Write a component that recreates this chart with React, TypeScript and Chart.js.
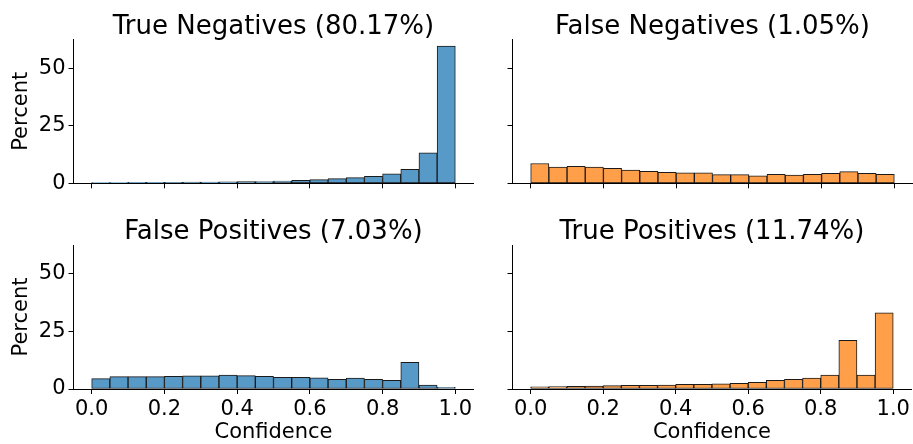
import React, { useEffect, useRef } from "react";
import { Chart, registerables } from "chart.js";

Chart.register(...registerables);
Chart.defaults.font.family = "'DejaVu Sans', sans-serif";
Chart.defaults.color = "#000";

// Bin centres of the 20 histogram bins over confidence [0, 1]
const binCenters = [
  0.025, 0.075, 0.125, 0.175, 0.225, 0.275, 0.325, 0.375, 0.425, 0.475,
  0.525, 0.575, 0.625, 0.675, 0.725, 0.775, 0.825, 0.875, 0.925, 0.975,
];
const xTickValues = [0, 0.2, 0.4, 0.6, 0.8, 1.0];
const yTickValues = [0, 25, 50];

const panelTitles = [
  "True Negatives (80.17%)",
  "False Negatives (1.05%)",
  "False Positives (7.03%)",
  "True Positives (11.74%)",
];
const xAxisLabel = "Confidence";
const yAxisLabel = "Percent";

// Percent of samples per bin
const trueNegatives = [
  0.3, 0.35, 0.4, 0.4, 0.45, 0.5, 0.55, 0.6, 0.7, 0.8,
  1.0, 1.3, 1.6, 2.0, 2.5, 3.0, 4.1, 6.1, 13.3, 59.7,
];
const falseNegatives = [
  8.6, 7.0, 7.4, 7.1, 6.5, 5.8, 5.2, 4.8, 4.5, 4.6,
  3.8, 3.8, 3.2, 3.9, 3.6, 3.9, 4.3, 5.1, 4.3, 3.9,
];
const falsePositives = [
  4.5, 5.4, 5.4, 5.4, 5.5, 5.7, 5.7, 6.0, 5.8, 5.5,
  5.1, 5.1, 4.9, 4.2, 4.7, 4.2, 3.8, 11.6, 1.7, 0.7,
];
const truePositives = [
  0.9, 1.0, 1.2, 1.3, 1.5, 1.6, 1.6, 1.7, 2.0, 2.0,
  2.3, 2.5, 2.9, 3.8, 4.2, 4.7, 6.1, 21.2, 6.0, 33.1,
];

const BLUE = "#5799C7";
const ORANGE = "#FF9F4A";

type Panel = {
  left: number;
  top: number;
  width: number;
  height: number;
  yAxisWidth: number;
  padRight: number;
  titleTop: number;
  titleBottom: number;
  xAxisHeight: number;
  showXLabels: boolean;
  showYLabels: boolean;
  color: string;
  values: number[];
  title: string;
};

const panels: Panel[] = [
  { left: 0, top: 0, width: 485, height: 205, yAxisWidth: 73.5, padRight: 11.5, titleTop: 15.8, titleBottom: 0.1, xAxisHeight: 21.7, showXLabels: false, showYLabels: true, color: BLUE, values: trueNegatives, title: panelTitles[0] },
  { left: 485, top: 0, width: 428, height: 205, yAxisWidth: 27.5, padRight: 0.5, titleTop: 15.8, titleBottom: 0.1, xAxisHeight: 21.7, showXLabels: false, showYLabels: false, color: ORANGE, values: falseNegatives, title: panelTitles[1] },
  { left: 0, top: 205, width: 485, height: 239, yAxisWidth: 73.5, padRight: 11.5, titleTop: 15.8, titleBottom: 0.8, xAxisHeight: 55, showXLabels: true, showYLabels: true, color: BLUE, values: falsePositives, title: panelTitles[2] },
  { left: 485, top: 205, width: 428, height: 239, yAxisWidth: 27.5, padRight: 0.5, titleTop: 15.8, titleBottom: 0.8, xAxisHeight: 55, showXLabels: true, showYLabels: false, color: ORANGE, values: truePositives, title: panelTitles[3] },
];

function HistPanel({ p }: { p: Panel }) {
  const ref = useRef<HTMLCanvasElement | null>(null);
  useEffect(() => {
    if (!ref.current) return;
    const chart = new Chart(ref.current, {
      type: "bar",
      data: {
        datasets: [
          {
            data: binCenters.map((x, i) => ({ x, y: p.values[i] })),
            backgroundColor: p.color,
            borderColor: "#1a1a1a",
            borderWidth: 1,
            borderSkipped: false,
            barPercentage: 1,
            categoryPercentage: 1,
          } as any,
        ],
      },
      options: {
        animation: false,
        responsive: false,
        maintainAspectRatio: false,
        events: [],
        layout: { padding: { left: 0, right: p.padRight, top: 0, bottom: 0 } },
        plugins: {
          legend: { display: false },
          tooltip: { enabled: false },
          title: {
            display: true,
            fullSize: false,
            align: "center",
            text: p.title,
            color: "#000",
            font: { size: 26, weight: "normal", lineHeight: 0.9 },
            padding: { top: p.titleTop, bottom: p.titleBottom },
          },
        },
        scales: {
          x: {
            type: "linear",
            min: -0.05,
            max: 1.05,
            offset: false,
            grid: {
              display: true,
              offset: false,
              drawOnChartArea: false,
              drawTicks: true,
              tickLength: 5,
              tickWidth: 1,
              tickColor: "#000",
            },
            border: { display: true, color: "#000", width: 1 },
            ticks: {
              color: "#000",
              font: { size: 21 },
              padding: 3,
              maxRotation: 0,
              autoSkip: false,
              callback: (v: any) => (p.showXLabels ? Number(v).toFixed(1) : ""),
            },
            afterBuildTicks: (s: any) => {
              s.ticks = xTickValues.map((v) => ({ value: v }));
            },
            afterFit: (s: any) => {
              s.height = p.xAxisHeight;
            },
            title: {
              display: p.showXLabels,
              text: xAxisLabel,
              color: "#000",
              font: { size: 21, lineHeight: 1 },
              padding: { top: 0, bottom: 1 },
            },
          },
          y: {
            type: "linear",
            min: 0,
            max: 62.6,
            grid: {
              display: true,
              offset: false,
              drawOnChartArea: false,
              drawTicks: true,
              tickLength: 5,
              tickWidth: 1,
              tickColor: "#000",
            },
            border: { display: true, color: "#000", width: 1 },
            ticks: {
              color: "#000",
              font: { size: 21 },
              padding: 3,
              callback: (v: any) => (p.showYLabels ? String(v) : ""),
            },
            afterBuildTicks: (s: any) => {
              s.ticks = yTickValues.map((v) => ({ value: v }));
            },
            afterFit: (s: any) => {
              s.width = p.yAxisWidth;
            },
            title: {
              display: p.showYLabels,
              text: yAxisLabel,
              color: "#000",
              font: { size: 21, lineHeight: 1 },
              padding: { top: 11, bottom: 0 },
            },
          },
        },
      } as any,
    });
    return () => chart.destroy();
  }, [p]);
  return (
    <canvas
      ref={ref}
      width={p.width}
      height={p.height}
      style={{ position: "absolute", left: p.left, top: p.top, width: p.width, height: p.height }}
    />
  );
}

export default function App() {
  return (
    <div style={{ position: "absolute", left: 0, top: 0, width: 913, height: 444, background: "#fff" }}>
      {panels.map((p, i) => (
        <HistPanel key={i} p={p} />
      ))}
    </div>
  );
}
